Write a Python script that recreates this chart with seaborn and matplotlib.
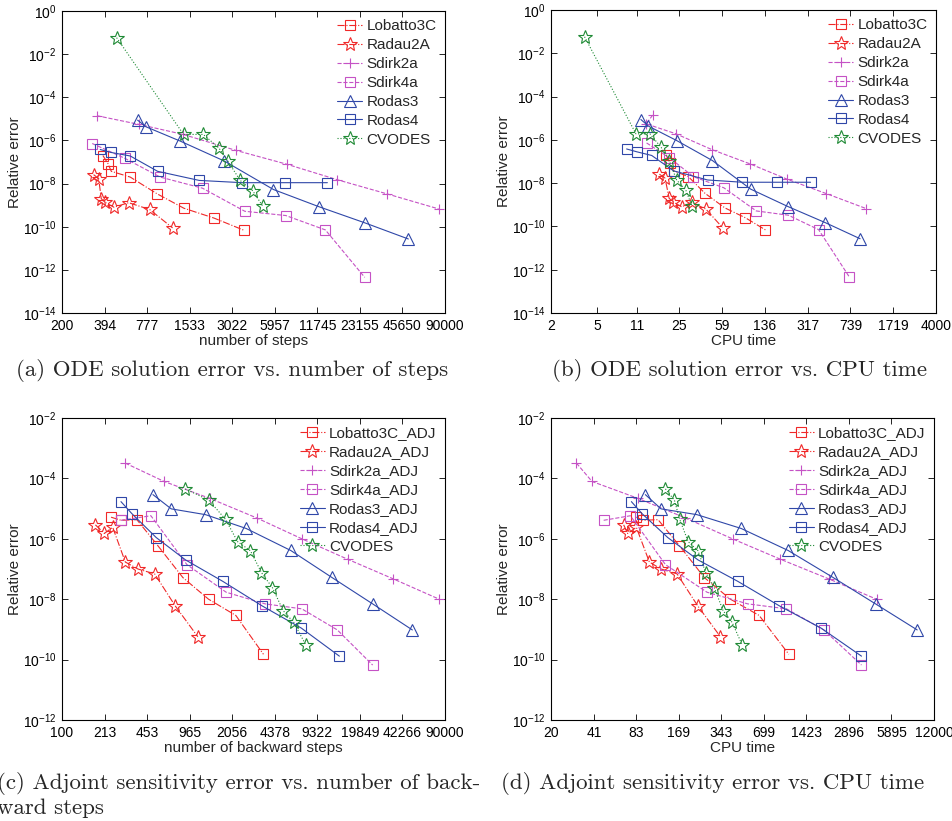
import matplotlib
matplotlib.use("Agg")
import matplotlib.pyplot as plt
from matplotlib.ticker import NullLocator, FixedLocator, LogFormatterMathtext
import seaborn as sns

# tick labels as printed on the axes
STEP_TICKS = [200, 394, 777, 1533, 3022, 5957, 11745, 23155, 45650, 90000]
CPU_TICKS = [2, 5, 11, 25, 59, 136, 317, 739, 1719, 4000]
ADJ_STEP_TICKS = [100, 213, 453, 965, 2056, 4378, 9322, 19849, 42266, 90000]
ADJ_CPU_TICKS = [20, 41, 83, 169, 343, 699, 1423, 2896, 5895, 12000]
ODE_YEXP = [-14, -12, -10, -8, -6, -4, -2, 0]
ADJ_YEXP = [-12, -10, -8, -6, -4, -2]

METHODS = ["Lobatto3C", "Radau2A", "Sdirk2a", "Sdirk4a", "Rodas3", "Rodas4", "CVODES"]

# ODE solution: number of steps, CPU time, relative error
ode_steps = {
    "Lobatto3C": [384, 416, 439, 594, 908, 1397, 2265, 3634],
    "Radau2A": [331, 359, 374, 394, 458, 579, 809, 1167],
    "Sdirk2a": [349, 686, 1382, 3184, 7212, 16177, 35866, 81220],
    "Sdirk4a": [324, 543, 958, 1881, 3693, 7098, 13354, 25000],
    "Rodas3": [668, 763, 1319, 2671, 5834, 12140, 25140, 50140],
    "Rodas4": [368, 434, 594, 919, 1784, 3538, 7059, 13784],
    "CVODES": [478, 1390, 1902, 2441, 2817, 3430, 4194, 4921],
}
ode_cpu = {
    "Lobatto3C": [19.4, 21.0, 22.5, 30.1, 41.8, 61.9, 93, 138],
    "Radau2A": [17.0, 19.0, 20.6, 22.1, 26.4, 32.1, 42.6, 59.1],
    "Sdirk2a": [14.9, 13.1, 23.6, 48.2, 101, 213, 458, 1006],
    "Sdirk4a": [13.2, 20.7, 33.2, 60.7, 115, 217, 394, 725],
    "Rodas3": [11.8, 13.7, 23.9, 48.5, 103, 215, 449, 894],
    "Rodas4": [8.9, 10.9, 14.6, 22.5, 44.0, 87.6, 173, 336],
    "CVODES": [3.88, 10.7, 14.1, 17.6, 20.6, 23.9, 28.7, 32.3],
}
ode_err = {
    "Lobatto3C": [2.0e-7, 8.5e-8, 3.7e-8, 2.0e-8, 3.4e-9, 7.2e-10, 2.5e-10, 6.9e-11],
    "Radau2A": [2.6e-8, 1.7e-8, 2.0e-9, 1.4e-9, 8.0e-10, 1.3e-9, 6.3e-10, 8.8e-11],
    "Sdirk2a": [1.4e-5, 5.5e-6, 1.9e-6, 3.5e-7, 7.9e-8, 1.5e-8, 3.3e-9, 6.7e-10],
    "Sdirk4a": [7.2e-7, 1.5e-7, 2.0e-8, 6.1e-9, 5.2e-10, 3.3e-10, 7.1e-11, 4.5e-13],
    "Rodas3": [8.7e-6, 4.3e-6, 9.3e-7, 1.1e-7, 5.3e-9, 8.3e-10, 1.5e-10, 2.7e-11],
    "Rodas4": [3.8e-7, 2.8e-7, 1.9e-7, 3.7e-8, 1.4e-8, 1.1e-8, 1.1e-8, 1.1e-8],
    "CVODES": [5.8e-2, 1.9e-6, 1.9e-6, 4.5e-7, 1.1e-7, 1.4e-8, 4.6e-9, 8.9e-10],
}

# adjoint sensitivities: backward steps, CPU time, relative error
adj_steps = {
    "Lobatto3C": [239, 285, 378, 549, 856, 1350, 2191, 3580],
    "Radau2A": [181, 212, 246, 308, 385, 518, 747, 1116],
    "Sdirk2a": [308, 614, 1374, 3179, 7150, 15980, 35950, 81200],
    "Sdirk4a": [285, 485, 919, 1847, 3690, 7070, 13300, 24900],
    "Rodas3": [503, 696, 1280, 2631, 5814, 12030, 24900, 50400],
    "Rodas4": [285, 346, 533, 897, 1739, 3497, 7025, 13790],
    "CVODES": [892, 1357, 1825, 2258, 2842, 3457, 4200, 5076, 6131, 7587],
}
adj_cpu = {
    "Lobatto3C": [83.2, 93.0, 119.6, 170.8, 259, 400, 647, 1062],
    "Radau2A": [67.3, 72.0, 83.2, 103.4, 125.7, 164.2, 232, 339],
    "Sdirk2a": [30.6, 39.7, 85.1, 188.8, 418, 924, 2071, 4594],
    "Sdirk4a": [48.2, 75.3, 135.2, 271, 535, 1021, 1906, 3575],
    "Rodas3": [96.7, 125.7, 229, 479, 1050, 2214, 4518, 9066],
    "Rodas4": [76.6, 91.5, 140.6, 233, 453, 908, 1822, 3575],
    "CVODES": [135.2, 157.1, 171.7, 197.5, 233, 265, 306, 354, 412, 487],
}
adj_err = {
    "Lobatto3C": [5.2e-6, 4.1e-6, 4.3e-6, 5.9e-7, 5.2e-8, 1.0e-8, 2.9e-9, 1.5e-10],
    "Radau2A": [2.9e-6, 1.5e-6, 2.4e-6, 1.7e-7, 1.0e-7, 6.9e-8, 6.0e-9, 5.7e-10],
    "Sdirk2a": [3.2e-4, 7.9e-5, 2.2e-5, 4.9e-6, 9.8e-7, 2.1e-7, 4.7e-8, 1.0e-8],
    "Sdirk4a": [4.1e-6, 5.8e-6, 1.4e-7, 1.7e-8, 7.0e-9, 4.8e-9, 9.6e-10, 6.6e-11],
    "Rodas3": [2.9e-5, 9.8e-6, 6.3e-6, 2.2e-6, 4.1e-7, 5.3e-8, 7.0e-9, 9.6e-10],
    "Rodas4": [1.7e-5, 6.8e-6, 1.1e-6, 2.0e-7, 3.9e-8, 6.0e-9, 1.1e-9, 1.3e-10],
    "CVODES": [4.5e-5, 1.9e-5, 4.4e-6, 8.1e-7, 4.0e-7, 7.6e-8, 2.4e-8, 4.2e-9, 1.7e-9, 3.1e-10],
}

RED, MAG, BLUE, GREEN = "#f02828", "#c552c5", "#2f47a8", "#1f8a35"
STYLE = {
    "Lobatto3C": (RED, "-.", "s", 6.5),
    "Radau2A": (RED, "-.", "*", 10),
    "Sdirk2a": (MAG, "--", "+", 7),
    "Sdirk4a": (MAG, "--", "s", 6.5),
    "Rodas3": (BLUE, "-", "^", 8),
    "Rodas4": (BLUE, "-", "s", 6.5),
    "CVODES": (GREEN, ":", "*", 10),
}

sns.set_theme(style="ticks")
plt.rcParams["font.family"] = ["Liberation Sans", "DejaVu Sans"]
plt.rcParams["mathtext.fontset"] = "custom"
plt.rcParams["mathtext.rm"] = "Liberation Sans"
plt.rcParams["mathtext.it"] = "Liberation Sans:italic"
plt.rcParams["axes.edgecolor"] = "black"
plt.rcParams["axes.linewidth"] = 0.8


def draw_panel(ax, xdata, ydata, xticks, yexp, xlabel, suffix):
    ax.set_xscale("log")
    ax.set_yscale("log")
    for name in METHODS:
        color, ls, marker, ms = STYLE[name]
        label = name if name == "CVODES" else name + suffix
        sns.lineplot(
            x=xdata[name], y=ydata[name], ax=ax, sort=False, estimator=None,
            color=color, linestyle=ls, linewidth=0.8, marker=marker, markersize=ms,
            markerfacecolor="none", markeredgecolor=color, markeredgewidth=0.8,
            label=label,
        )
    ax.set_xlim(xticks[0], xticks[-1])
    ax.set_ylim(10.0 ** yexp[0], 10.0 ** yexp[-1])
    ax.xaxis.set_major_locator(FixedLocator(xticks))
    ax.set_xticklabels([str(t) for t in xticks])
    ax.xaxis.set_minor_locator(NullLocator())
    ax.yaxis.set_major_locator(FixedLocator([10.0 ** e for e in yexp]))
    ax.yaxis.set_major_formatter(LogFormatterMathtext())
    ax.yaxis.set_minor_locator(NullLocator())
    ax.tick_params(direction="in", top=True, right=True, length=4, width=0.6,
                   labelsize=10, colors="black", pad=4)
    ax.set_xlabel(xlabel, fontsize=11)
    ax.set_ylabel("Relative error", fontsize=11)
    ax.yaxis.set_label_coords(-0.105, 0.5)
    ax.xaxis.set_label_coords(0.5, -0.07)
    ax.legend(loc="upper right", frameon=False, fontsize=11, handlelength=1.6,
              handletextpad=0.3, labelspacing=0.32, borderaxespad=0.15)


fig = plt.figure(figsize=(9.53, 8.21), dpi=100)
W, H = 953, 821


def add_axes(left, top, right, bottom):
    return fig.add_axes([left / W, 1 - bottom / H, (right - left) / W, (bottom - top) / H])


ax_a = add_axes(62, 11, 445, 313)
ax_b = add_axes(551, 10, 936, 313)
ax_c = add_axes(62, 418, 445, 720)
ax_d = add_axes(551, 418, 934, 720)

draw_panel(ax_a, ode_steps, ode_err, STEP_TICKS, ODE_YEXP, "number of steps", "")
draw_panel(ax_b, ode_cpu, ode_err, CPU_TICKS, ODE_YEXP, "CPU time", "")
draw_panel(ax_c, adj_steps, adj_err, ADJ_STEP_TICKS, ADJ_YEXP, "number of backward steps", "_ADJ")
draw_panel(ax_d, adj_cpu, adj_err, ADJ_CPU_TICKS, ADJ_YEXP, "CPU time", "_ADJ")

cap = dict(family=["cmr10", "DejaVu Serif"], fontsize=16.5, va="center")
fig.text(232 / W, 1 - 370 / H, "(a) ODE solution error vs. number of steps", ha="center", **cap)
fig.text(740 / W, 1 - 370 / H, "(b) ODE solution error vs. CPU time", ha="center", **cap)
fig.text(-3 / W, 1 - 783 / H, "(c) Adjoint sensitivity error vs. number of back-", ha="left", **cap)
fig.text(-3 / W, 1 - 808 / H, "ward steps", ha="left", **cap)
fig.text(713 / W, 1 - 783 / H, "(d) Adjoint sensitivity error vs. CPU time", ha="center", **cap)

fig.savefig("out.png", dpi=100)
